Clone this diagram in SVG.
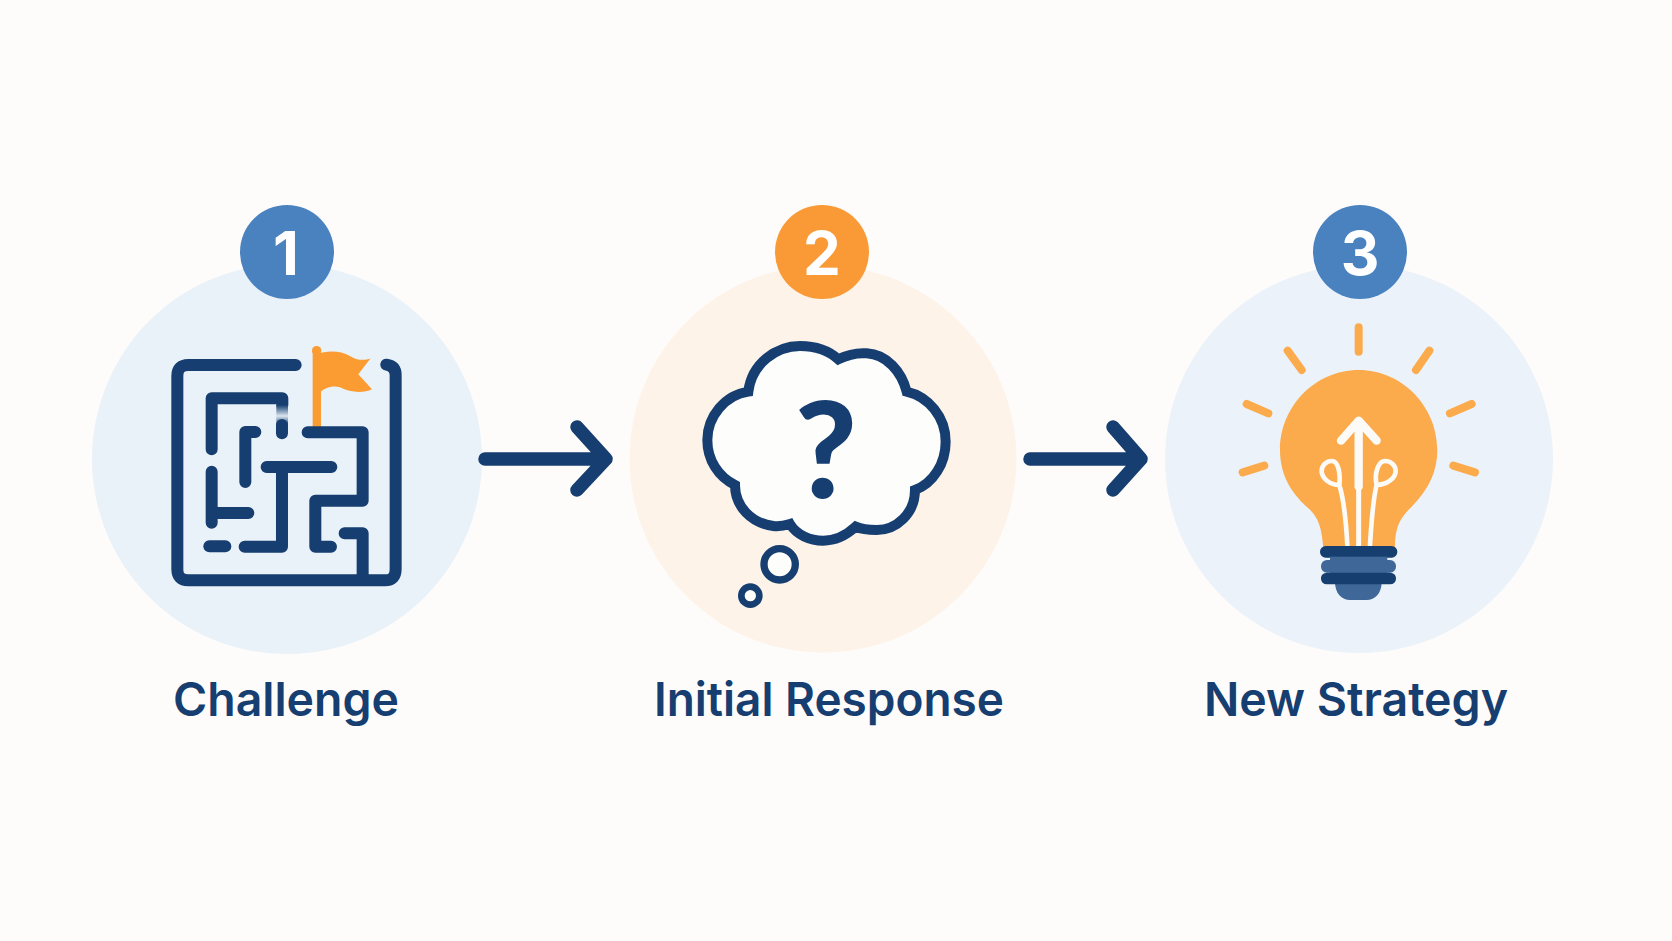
<svg xmlns="http://www.w3.org/2000/svg" width="1672" height="941" viewBox="0 0 1672 941">
<style>
.bg{fill:#fdfcfa}
.navy{fill:none;stroke:#163e70;stroke-linecap:round;stroke-linejoin:round}
.maze{stroke-width:36}
.badge{font-family:Inter,"Liberation Sans",sans-serif;font-weight:700;font-size:60px;fill:#fff;text-anchor:middle}
.label{font-family:Inter,"Liberation Sans",sans-serif;font-weight:600;font-size:47px;fill:#163e70}
.ray{fill:none;stroke:#fbaa4c;stroke-width:24;stroke-linecap:round}
.wh{fill:none;stroke:#fdfbf7;stroke-linecap:round;stroke-linejoin:round}
.arrow{fill:none;stroke:#163e70;stroke-width:13.500;stroke-linecap:round;stroke-linejoin:round}
</style>
<defs>
<linearGradient id="fade" x1="0" y1="0" x2="0" y2="1"><stop offset="0" stop-color="#163e70"/><stop offset="0.55" stop-color="#dbe6f1"/><stop offset="1" stop-color="#163e70"/></linearGradient>
</defs>
<rect class="bg" width="1672" height="941"/>
<g id="node-challenge">
<circle cx="287" cy="459" r="195" fill="#e9f1f9"/>
<circle cx="287" cy="252" r="47" fill="#4a82c0"/>
<text class="badge" x="286" y="275">1</text>
<g transform="translate(150 330) scale(0.3333)">
<rect x="488" y="60" width="25" height="236" fill="#fb9c33"/>
<circle cx="500" cy="62" r="14" fill="#fb9c33"/>
<path d="M500 72C530 62 570 60 600 78C620 92 645 92 662 85L625 133L666 178C640 190 600 188 570 172C550 165 525 172 506 190Z" fill="#fb9c33"/>
<path class="navy maze" d="M437 105H115Q82 105 82 138V718Q82 751 115 751H705Q737 751 737 718V135Q737 108 709 104"/>
<path class="navy maze" d="M185 358V205H397V225"/>
<rect x="379" y="225" width="35" height="60" fill="url(#fade)"/>
<path class="navy maze" d="M396 285V310"/>
<path class="navy maze" d="M316 306H286V456"/>
<path class="navy maze" d="M185 425V578M185 549H295"/>
<path class="navy maze" d="M178 649H226"/>
<path class="navy maze" d="M284 650H396V412M350 411H544"/>
<path class="navy maze" d="M473 307H638V512H496V650H543"/>
<path class="navy maze" d="M584 610H638V745"/>
</g>
<text class="label" x="173" y="716" textLength="226" lengthAdjust="spacingAndGlyphs">Challenge</text>
</g>
<g id="node-initial-response">
<circle cx="823" cy="459" r="193.500" fill="#fdf3e9"/>
<circle cx="822" cy="252" r="47" fill="#fa9a36"/>
<text class="badge" x="822" y="275">2</text>
<g transform="translate(680 320) scale(0.3333)">
<path d="M205 215C215 130 290 78 360 78C410 78 450 95 475 118C505 103 530 98 560 100C620 103 665 155 680 215C745 230 797 290 797 365C797 430 760 490 705 510C705 580 650 630 590 630C565 630 545 628 527 620C500 645 465 662 430 662C390 662 350 645 330 612C310 618 295 620 280 618C215 610 165 560 165 495C115 470 82 420 82 360C82 290 135 225 205 215Z" fill="#fdfdfc" stroke="#163e70" stroke-width="30" stroke-linejoin="miter"/>
<circle cx="299" cy="733" r="47" fill="#fdfdfc" stroke="#163e70" stroke-width="22"/>
<circle cx="211" cy="827" r="27" fill="#fdfdfc" stroke="#163e70" stroke-width="20"/>
</g>
<text x="826" y="498" font-family="Lato,'Liberation Sans',sans-serif" font-weight="900" font-size="134" fill="#163e70" text-anchor="middle">?</text>
<text class="label" x="654" y="716" textLength="350" lengthAdjust="spacingAndGlyphs">Initial Response</text>
</g>
<g id="node-new-strategy">
<circle cx="1359" cy="459" r="194" fill="#ebf2f9"/>
<circle cx="1360" cy="252" r="47" fill="#4a82c0"/>
<text class="badge" x="1360" y="275">3</text>
<g transform="translate(1220 310) scale(0.3333)">
<path class="ray" d="M416 52V125M203 122L245 180M628 122L588 180M80 282L145 310M755 282L690 310M68 487L133 467M765 487L700 467"/>
<path d="M310 715C305 650 295 620 260 590C210 545 180 490 180 420C180 290 285 180 416 180C547 180 652 290 652 420C652 490 620 545 575 590C540 625 525 650 525 715Z" fill="#fbaa4c"/>
<path class="wh" stroke-width="15" d="M416 530V705"/>
<path class="wh" stroke-width="25" d="M416 345V530M363 392L416 332L470 392"/>
<path class="wh" stroke-width="14" d="M382 705C378 630 372 570 358 525C330 525 305 505 305 483C305 465 320 453 335 453C355 453 362 490 358 525M450 705C455 630 458 570 470 525C500 525 527 505 527 483C527 465 512 453 495 453C475 453 462 490 470 525"/>
<path d="M345 815H485C485 850 465 870 440 870H390C365 870 345 850 345 815Z" fill="#3f6899"/>
<rect x="303" y="750" width="225" height="38" rx="18" fill="#3f6899"/>
<rect x="300" y="708" width="232" height="35" rx="17" fill="#163e6e"/>
<rect x="330" y="740" width="172" height="52" fill="#3f6899"/>
<rect x="303" y="788" width="225" height="35" rx="17" fill="#163e6e"/>
</g>
<text class="label" x="1204" y="716" textLength="304" lengthAdjust="spacingAndGlyphs">New Strategy</text>
</g>
<g id="connectors">
<path class="arrow" d="M485 459H606M577 427L606 459L577 490"/>
<path class="arrow" d="M1030 459H1141M1113 427L1141 459L1113 490"/>
</g>
</svg>
